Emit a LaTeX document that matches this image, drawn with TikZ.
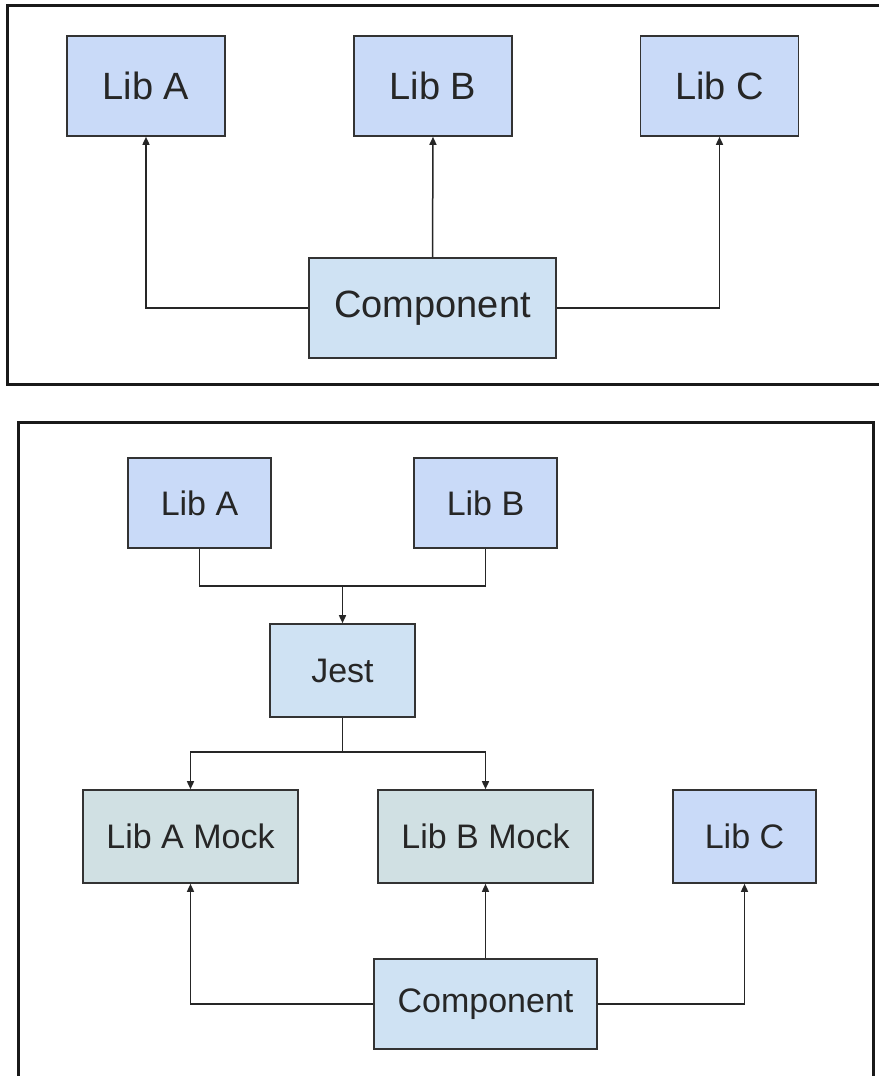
\documentclass[tikz,border=0pt]{standalone}
\usepackage{fontspec}
\setmainfont{Liberation Sans}
\usetikzlibrary{arrows.meta}
\usetikzlibrary{positioning}
\definecolor{libblue}{HTML}{C9DAF8}
\definecolor{coreblue}{HTML}{CFE2F3}
\definecolor{mockcyan}{HTML}{D0E0E3}
\definecolor{edgegray}{HTML}{333333}
\tikzset{
	box/.style={draw=edgegray, line width=1.6pt, inner sep=0pt, text=black!85},
	libbox/.style={box, fill=libblue},
	corebox/.style={box, fill=coreblue},
	mockbox/.style={box, fill=mockcyan},
	big/.style={font=\fontsize{38}{44}\selectfont},
	small/.style={font=\fontsize{34}{40}\selectfont},
	link/.style={draw=black!85, line width=1.5pt, -{Triangle[length=8pt,width=7pt]}},
	frame/.style={draw=black!90, line width=3pt}
}

\begin{document}
\begin{tikzpicture}[x=1pt,y=-1pt]
	\useasboundingbox[fill=white] (0,0) rectangle (879,1076);
	% top picture
	\draw[frame] (879,5) -- (7,5) -- (7,384) -- (879,384);
	\node[libbox, big, minimum width=158pt, minimum height=100pt] (libA) at (146,86) {Lib A};
	\node[libbox, big, minimum width=158pt, minimum height=100pt] (libB) at (433,86) {Lib B};
	\node[libbox, big, minimum width=158pt, minimum height=100pt] (libC) at (719.5,86) {Lib C};
	\node[corebox, big, minimum width=247pt, minimum height=100pt] (comp) at (432.5,308) {Component};
	\draw[link] (comp.west) -| (libA.south);
	\draw[link] (comp.north) -- (libB.south);
	\draw[link] (comp.east) -| (libC.south);
	% bottom picture
	\draw[frame] (18,1076) -- (18,422) -- (873,422) -- (873,1076);
	\node[libbox, small, minimum width=143pt, minimum height=90pt] (libAb) at (199.5,503) {Lib A};
	\node[libbox, small, minimum width=143pt, minimum height=90pt] (libBb) at (485.5,503) {Lib B};
	\node[corebox, small, minimum width=145pt, minimum height=93pt] (jest) at (342.5,670.5) {Jest};
	\node[mockbox, small, minimum width=215pt, minimum height=93pt] (mockA) at (190.5,836.5) {Lib A Mock};
	\node[mockbox, small, minimum width=215pt, minimum height=93pt] (mockB) at (485.5,836.5) {Lib B Mock};
	\node[libbox, small, minimum width=143pt, minimum height=93pt] (libCb) at (744.5,836.5) {Lib C};
	\node[corebox, small, minimum width=223pt, minimum height=90pt] (compb) at (485.5,1004) {Component};
	\coordinate (upjoin) at (342.5,586);
	\coordinate (downjoin) at (342.5,752);
	\draw[link, -] (libAb.south) |- (upjoin) -| (libBb.south);
	\draw[link] (upjoin) -- (jest.north);
	\draw[link, -] (jest.south) -- (downjoin);
	\draw[link] (downjoin) -| (mockA.north);
	\draw[link] (downjoin) -| (mockB.north);
	\draw[link] (compb.west) -| (mockA.south);
	\draw[link] (compb.north) -- (mockB.south);
	\draw[link] (compb.east) -| (libCb.south);
\end{tikzpicture}
\end{document}
